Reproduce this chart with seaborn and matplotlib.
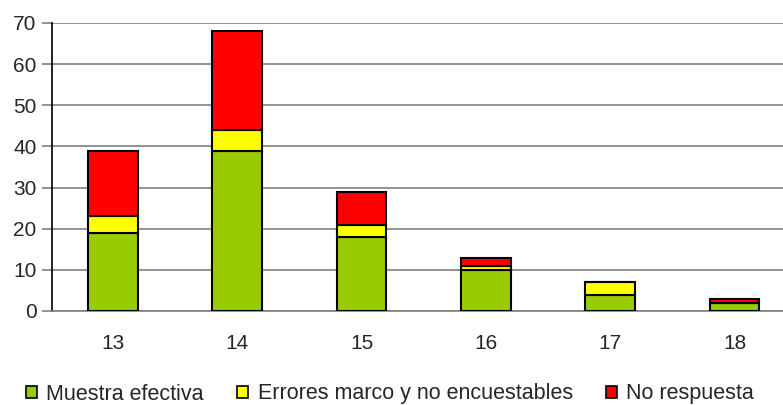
import matplotlib
matplotlib.use('Agg')
import matplotlib.pyplot as plt
import seaborn as sns
import pandas as pd
from matplotlib.patches import Patch

# datos
categorias = ['13', '14', '15', '16', '17', '18']
muestra_efectiva = [19, 39, 18, 10, 4, 2]
errores_marco = [4, 5, 3, 1, 3, 0]
no_respuesta = [16, 24, 8, 2, 0, 1]
series = ['Muestra efectiva', 'Errores marco y no encuestables', 'No respuesta']
colores = ['#99cc00', '#ffff00', '#ff0000']

df = pd.DataFrame({'edad': categorias, 'muestra': muestra_efectiva,
                   'errores': errores_marco, 'no_resp': no_respuesta})

sns.set_style('white')
plt.rcParams['font.family'] = ['Liberation Sans', 'DejaVu Sans']

fig = plt.figure(figsize=(7.83, 4.05), dpi=100)
ax = fig.add_axes([52 / 783, 1 - 311 / 405, 1 - 52 / 783, (311 - 23) / 405])

bottom = [0] * len(categorias)
for col, color in zip(['muestra', 'errores', 'no_resp'], colores):
    sns.barplot(data=df, x='edad', y=col, color=color, bottom=bottom, width=0.4,
                edgecolor='black', linewidth=1.5, saturation=1, ax=ax, zorder=3)
    bottom = [b + v for b, v in zip(bottom, df[col])]

ax.set_xlim(-0.49, 5.39)
ax.set_ylim(0, 70)
ax.set_yticks(range(0, 71, 10))
ax.set_xlabel('')
ax.set_ylabel('')
ax.yaxis.grid(True, color='#808080', linewidth=1.2, zorder=0)
ax.set_axisbelow(True)

for s in ['top', 'right']:
    ax.spines[s].set_visible(False)
ax.spines['left'].set_color('black')
ax.spines['left'].set_linewidth(1.2)
ax.spines['bottom'].set_color('#808080')
ax.spines['bottom'].set_linewidth(1.2)

ax.tick_params(axis='x', length=0, pad=16.5, labelsize=15)
ax.tick_params(axis='y', length=7, width=1.2, color='#808080', pad=4, labelsize=15, left=True)

handles = [Patch(facecolor=c, edgecolor='black', linewidth=1.2) for c in colores]
fig.legend(handles, series, loc='center', bbox_to_anchor=(390 / 783, 1 - 394 / 405),
           ncol=3, frameon=False, fontsize=15.5, handlelength=0.5, handleheight=0.5,
           handletextpad=0.45, columnspacing=1.55, borderpad=0)

fig.savefig('out.png', dpi=100)
